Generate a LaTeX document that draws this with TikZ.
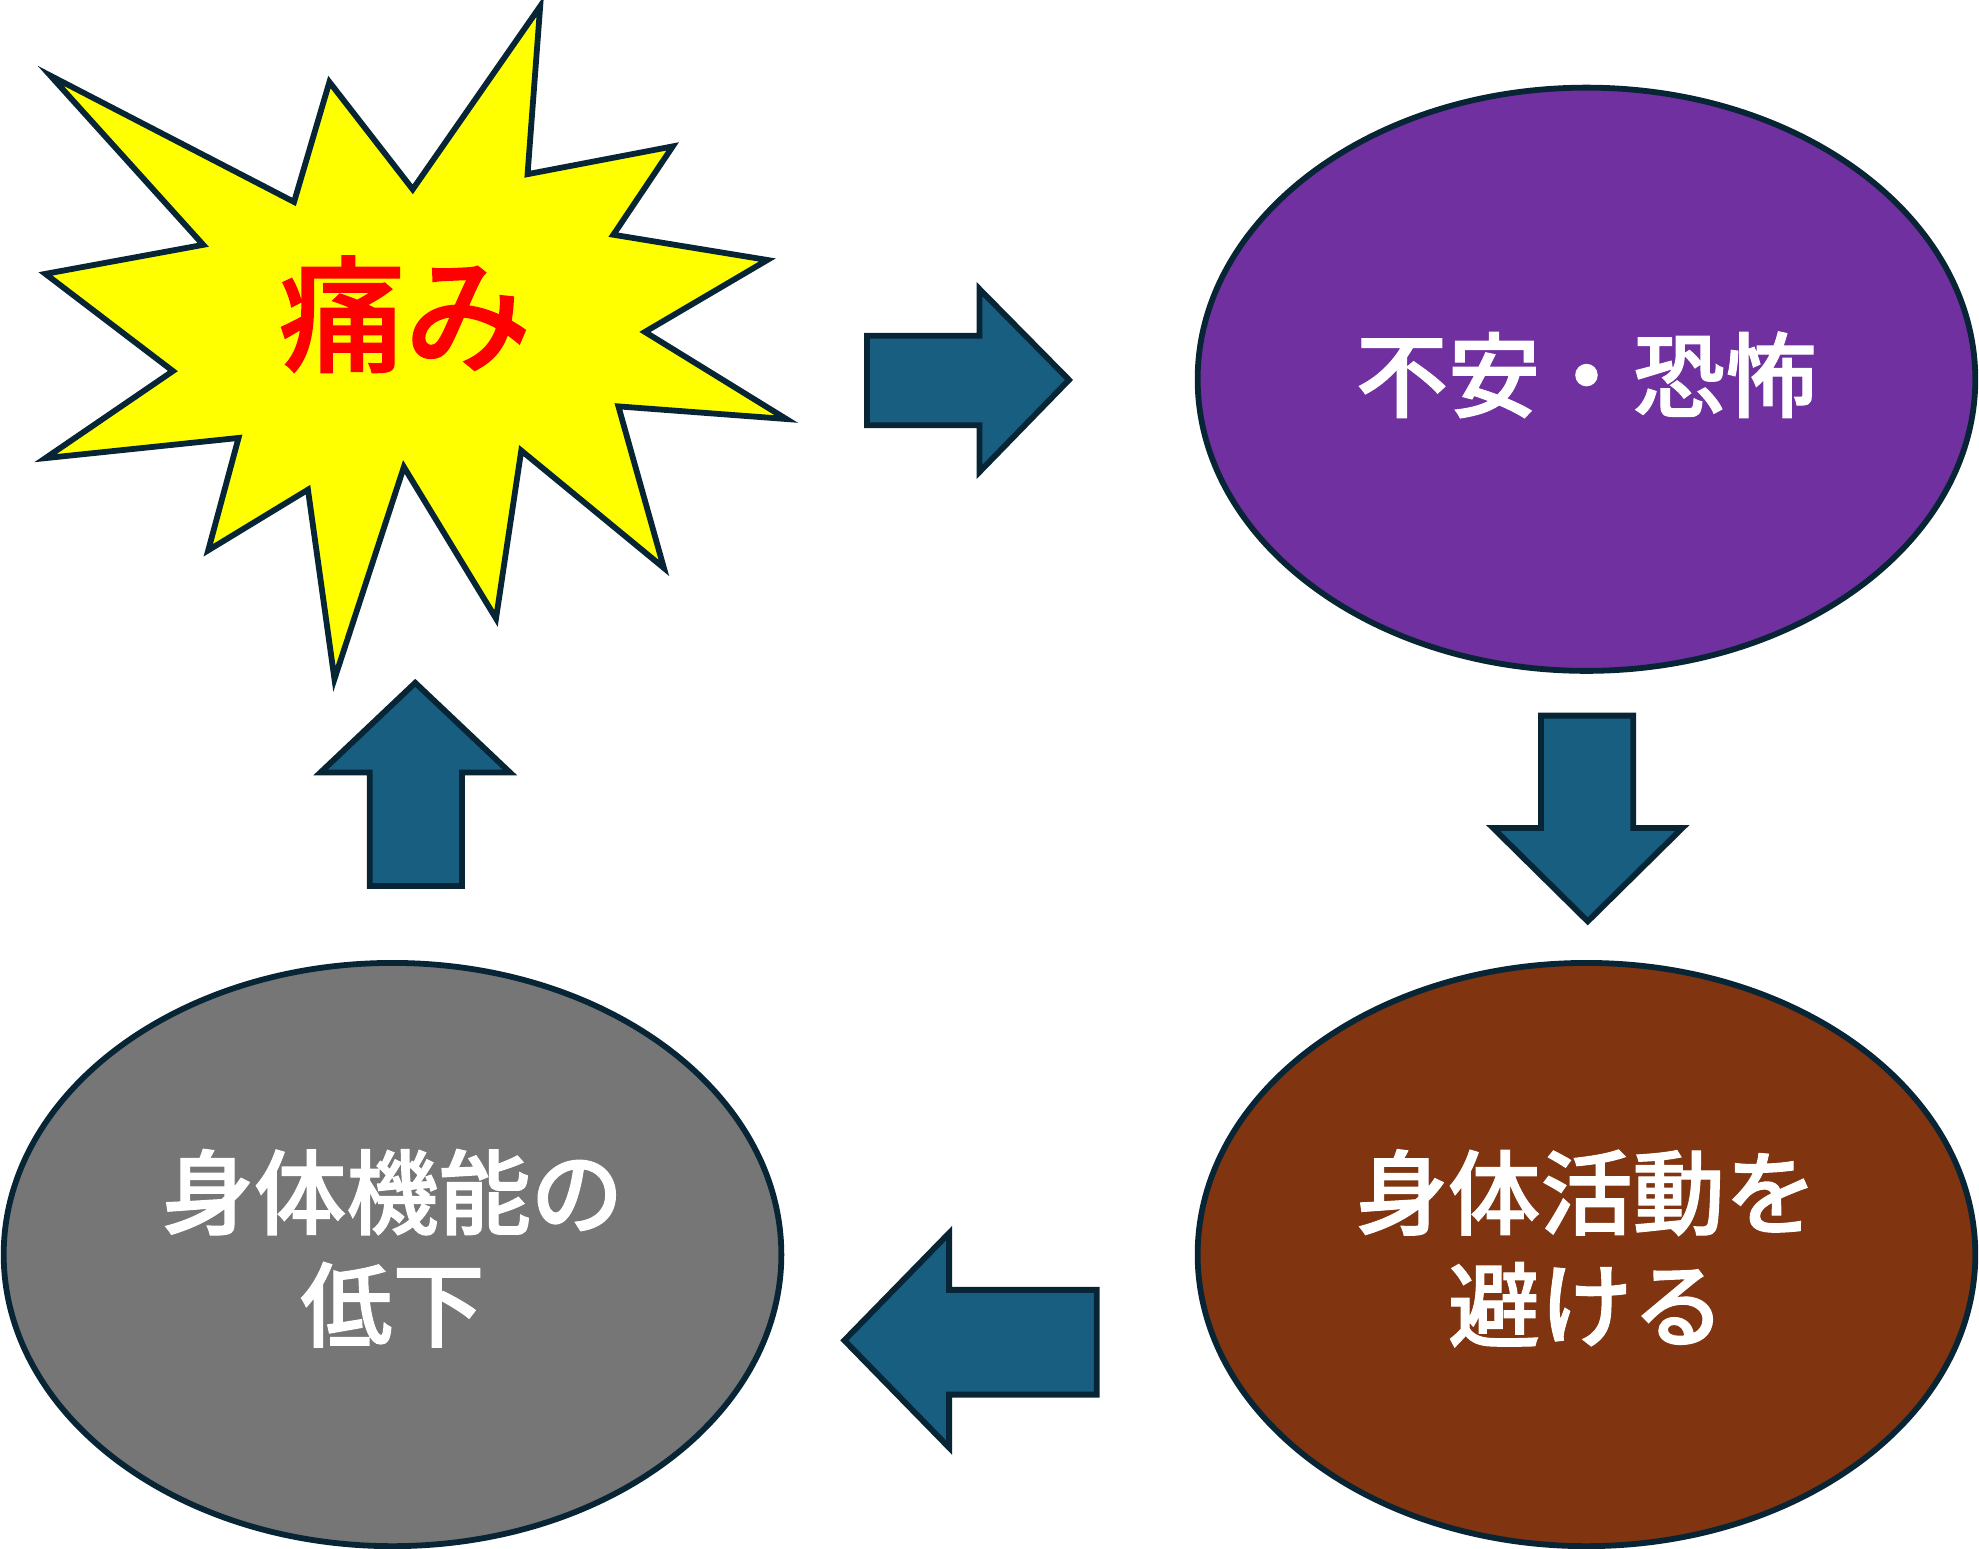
\documentclass[tikz,border=0pt]{standalone}
\usepackage{fontspec}
\usetikzlibrary{shapes.geometric}
\newfontfamily\jp{Noto Sans CJK JP}[BoldFont={Noto Sans CJK JP Medium}, BoldFeatures={FakeBold=1.2}]
\definecolor{arrowfill}{RGB}{23,94,128}
\definecolor{edge}{RGB}{8,37,54}
\definecolor{purp}{RGB}{112,48,160}
\definecolor{brn}{RGB}{128,52,16}
\definecolor{gry}{RGB}{118,118,118}
\definecolor{burstyellow}{RGB}{255,255,0}
\begin{document}
\begin{tikzpicture}[x=0.025cm,y=-0.025cm,
  blob/.style={ellipse, draw=edge, line width=1.15mm, minimum width=15.4cm, minimum height=11.55cm, inner sep=0pt},
  blobtext/.style={text=white, align=center, inner sep=0pt, font=\jp\bfseries\fontsize{52}{63.3}\selectfont},
  blockarrow/.style={fill=arrowfill, draw=edge, line width=1.15mm, line join=miter},
  burst/.style={fill=burstyellow, draw=edge, line width=1.15mm, line join=miter},
  pain/.style={text=red, font=\jp\bfseries\fontsize{71}{80}\selectfont, inner sep=0pt}]
\useasboundingbox (0,0) rectangle (1568,1227);
% starburst
\draw[burst] (40,60) -- (233,160) -- (261,65) -- (327,150) -- (428,5) -- (418,138) -- (533,116) -- (486,186) -- (608,206) -- (511,263) -- (623,332) -- (490,322) -- (526,450) -- (413,357) -- (393,490) -- (320,370) -- (265,538) -- (244,388) -- (165,436) -- (189,347) -- (36,363) -- (137,294) -- (36,217) -- (161,194) -- cycle;
\node[pain] (pain) at (321,249) {痛み};
% ellipses
\node[blob, fill=purp] (fear) at (1257,300.5) {};
\node[blobtext] (feartext) at (1257,297) {不安・恐怖};
\node[blob, fill=brn] (avoid) at (1257,994) {};
\node[blobtext] (avoidtext) at (1257,989) {身体活動を\\避ける};
\node[blob, fill=gry] (decline) at (311,994) {};
\node[blobtext] (declinetext) at (311,989) {身体機能の\\低下};
% block arrows
\draw[blockarrow] (687,266) -- (776,266) -- (776,229) -- (847,301) -- (776,374) -- (776,337) -- (687,337) -- cycle;
\draw[blockarrow] (1221,567) -- (1294,567) -- (1294,656) -- (1333,656) -- (1258,730) -- (1183,656) -- (1221,656) -- cycle;
\draw[blockarrow] (869,1022) -- (752,1022) -- (752,977) -- (669,1062) -- (752,1147) -- (752,1105) -- (869,1105) -- cycle;
\draw[blockarrow] (293,702) -- (366,702) -- (366,612) -- (404,612) -- (329,541) -- (254,612) -- (293,612) -- cycle;
\end{tikzpicture}
\end{document}
